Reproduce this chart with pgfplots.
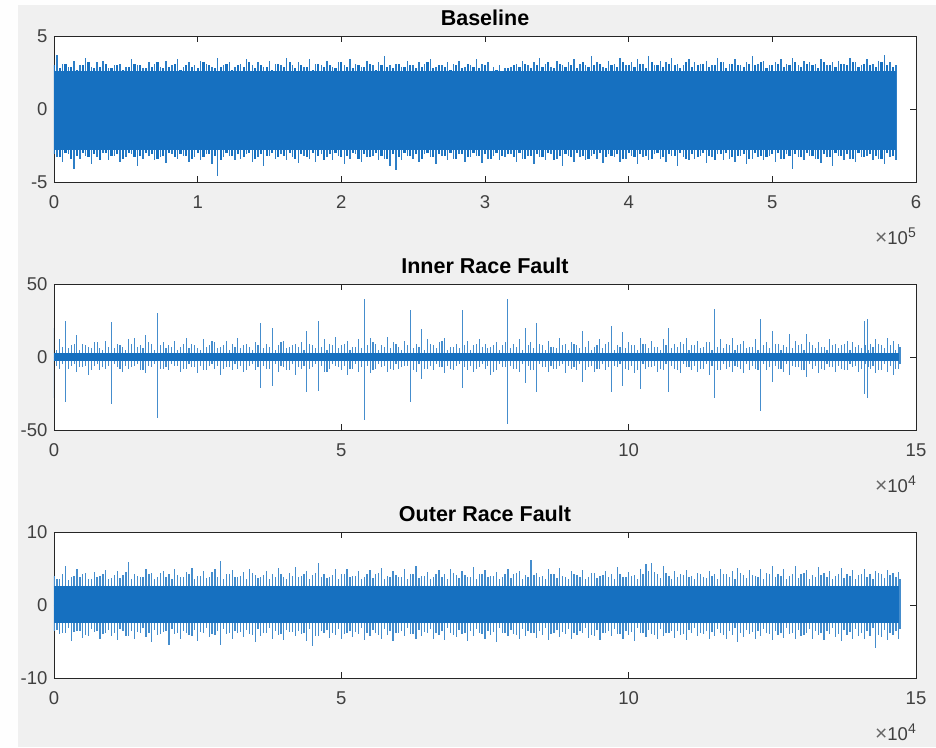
\documentclass[border=0pt]{standalone}
\usepackage{pgfplots}
\pgfplotsset{compat=1.18}
\usepackage{pgfplotstable}
\usepackage{fontspec}
\setmainfont{Liberation Sans}

\definecolor{mblue}{RGB}{22,112,192}
\definecolor{figbg}{RGB}{240,240,240}
\definecolor{axgray}{RGB}{38,38,38}

% baseline: peak envelope (x in units of 10^5)
% x/hi/lo = larger peaks, x2/h2/l2 = the denser fringe in between
\pgfplotstableread[row sep=\\]{
x hi lo x2 h2 l2\\
0.02 3.7 -3.3 0.00 3.0 -3.1\\ 0.06 3.1 -3.6 0.04 2.8 -3.3\\ 0.10 2.9 -3.1 0.08 3.1 -3.0\\
0.14 3.3 -4.1 0.12 2.9 -3.4\\ 0.18 3.0 -3.4 0.16 2.7 -3.2\\ 0.22 3.5 -3.2 0.20 3.0 -3.0\\
0.26 2.9 -3.8 0.24 3.2 -3.3\\ 0.30 3.2 -3.3 0.28 2.8 -3.1\\ 0.34 3.3 -3.0 0.32 2.9 -3.5\\
0.38 2.8 -3.5 0.36 3.1 -3.0\\ 0.42 3.0 -3.2 0.40 2.8 -3.2\\ 0.46 3.1 -3.6 0.44 3.0 -3.1\\
0.50 2.9 -3.3 0.48 2.7 -3.4\\ 0.54 3.4 -3.1 0.52 2.9 -3.0\\ 0.58 3.0 -3.9 0.56 3.1 -3.3\\
0.62 2.8 -3.4 0.60 3.0 -3.2\\ 0.66 3.2 -3.2 0.64 2.8 -3.0\\ 0.70 3.1 -3.5 0.68 2.9 -3.1\\
0.74 2.9 -3.3 0.72 3.2 -3.4\\ 0.78 3.3 -3.7 0.76 2.8 -3.2\\ 0.82 3.0 -3.1 0.80 2.9 -3.0\\
0.86 3.4 -3.4 0.84 3.1 -3.3\\ 0.90 2.9 -3.2 0.88 2.7 -3.1\\ 0.94 3.2 -3.6 0.92 3.0 -3.2\\
0.98 3.0 -3.3 0.96 2.9 -3.4\\ 1.02 3.3 -3.5 1.00 2.8 -3.0\\ 1.06 3.1 -3.1 1.04 3.2 -3.3\\
1.10 2.9 -3.8 1.08 3.0 -3.1\\ 1.14 3.5 -4.6 1.12 2.8 -3.2\\ 1.18 3.0 -3.3 1.16 2.9 -3.5\\
1.22 3.2 -3.2 1.20 3.1 -3.0\\ 1.26 2.9 -3.5 1.24 2.7 -3.2\\ 1.30 3.1 -3.4 1.28 3.0 -3.1\\
1.34 3.4 -3.1 1.32 2.9 -3.3\\ 1.38 3.0 -3.6 1.36 3.2 -3.0\\ 1.42 3.2 -3.3 1.40 2.8 -3.4\\
1.46 2.9 -3.9 1.44 3.0 -3.1\\ 1.50 3.3 -3.2 1.48 2.9 -3.2\\ 1.54 3.1 -3.4 1.52 2.7 -3.0\\
1.58 3.0 -3.1 1.56 3.1 -3.3\\ 1.62 3.5 -3.5 1.60 2.9 -3.2\\ 1.66 3.0 -3.3 1.64 3.2 -3.0\\
1.70 3.2 -3.7 1.68 2.8 -3.4\\ 1.74 2.9 -3.2 1.72 3.0 -3.1\\ 1.78 3.4 -3.4 1.76 2.9 -3.3\\
1.82 3.1 -3.6 1.80 2.7 -3.0\\ 1.86 3.0 -3.1 1.84 3.1 -3.2\\ 1.90 3.3 -3.3 1.88 2.9 -3.5\\
1.94 2.9 -3.5 1.92 3.0 -3.1\\ 1.98 3.2 -3.2 1.96 2.8 -3.0\\ 2.02 3.0 -3.8 2.00 3.2 -3.3\\
2.06 3.4 -3.4 2.04 2.9 -3.2\\ 2.10 3.1 -3.1 2.08 2.8 -3.0\\ 2.14 2.9 -3.6 2.12 3.0 -3.4\\
2.18 3.3 -3.3 2.16 2.9 -3.1\\ 2.22 3.0 -3.2 2.20 3.1 -3.3\\ 2.26 3.2 -3.5 2.24 2.7 -3.0\\
2.30 3.6 -3.4 2.28 3.0 -3.2\\ 2.34 3.0 -3.9 2.32 2.9 -3.4\\ 2.38 3.1 -4.2 2.36 2.8 -3.1\\
2.42 2.9 -3.5 2.40 3.1 -3.3\\ 2.46 3.3 -3.2 2.44 2.9 -3.0\\ 2.50 3.0 -3.4 2.48 3.0 -3.2\\
2.54 3.2 -3.6 2.52 2.8 -3.1\\ 2.58 3.1 -3.1 2.56 2.9 -3.4\\ 2.62 3.4 -3.3 2.60 3.2 -3.0\\
2.66 2.9 -3.8 2.64 2.8 -3.3\\ 2.70 3.0 -3.2 2.68 3.0 -3.1\\ 2.74 3.2 -3.5 2.72 2.9 -3.2\\
2.78 3.1 -3.4 2.76 2.7 -3.0\\ 2.82 3.3 -3.1 2.80 3.0 -3.4\\ 2.86 2.9 -3.6 2.84 2.8 -3.1\\
2.90 3.0 -3.3 2.88 3.1 -3.3\\ 2.94 3.4 -3.2 2.92 2.9 -3.0\\ 2.98 3.1 -3.7 2.96 2.8 -3.2\\
3.02 3.2 -3.4 3.00 3.0 -3.1\\ 3.06 2.9 -3.2 3.04 2.6 -3.4\\ 3.10 3.0 -3.5 3.08 2.7 -3.0\\
3.14 2.8 -3.3 3.12 2.6 -3.2\\ 3.18 2.9 -3.1 3.16 2.8 -3.1\\ 3.22 3.1 -3.6 3.20 3.0 -3.3\\
3.26 3.3 -3.4 3.24 2.9 -3.0\\ 3.30 3.0 -3.2 3.28 3.1 -3.4\\ 3.34 3.2 -3.8 3.32 2.8 -3.2\\
3.38 3.5 -3.3 3.36 3.0 -3.1\\ 3.42 3.1 -3.5 3.40 2.9 -3.3\\ 3.46 2.9 -3.1 3.44 3.2 -3.0\\
3.50 3.3 -3.4 3.48 2.8 -3.5\\ 3.54 3.0 -3.9 3.52 3.1 -3.2\\ 3.58 3.2 -3.2 3.56 2.9 -3.1\\
3.62 3.4 -3.6 3.60 3.0 -3.3\\ 3.66 3.1 -3.3 3.64 2.8 -3.0\\ 3.70 3.0 -3.5 3.68 3.2 -3.2\\
3.74 3.6 -3.2 3.72 2.9 -3.4\\ 3.78 3.2 -3.4 3.76 3.0 -3.1\\ 3.82 2.9 -3.7 3.80 3.1 -3.0\\
3.86 3.3 -3.1 3.84 2.8 -3.3\\ 3.90 3.1 -3.3 3.88 3.0 -3.2\\ 3.94 3.5 -3.6 3.92 2.9 -3.1\\
3.98 3.0 -3.4 3.96 3.2 -3.4\\ 4.02 3.2 -3.2 4.00 3.0 -3.0\\ 4.06 3.4 -3.8 4.04 2.9 -3.3\\
4.10 3.1 -3.3 4.08 3.1 -3.1\\ 4.14 3.6 -3.5 4.12 2.8 -3.2\\ 4.18 3.0 -3.1 4.16 3.2 -3.4\\
4.22 3.3 -3.4 4.20 3.0 -3.0\\ 4.26 3.2 -3.6 4.24 2.9 -3.3\\ 4.30 3.5 -3.2 4.28 3.1 -3.1\\
4.34 3.1 -3.9 4.32 3.0 -3.2\\ 4.38 3.0 -3.3 4.36 2.8 -3.0\\ 4.42 3.4 -3.5 4.40 3.2 -3.4\\
4.46 3.2 -3.4 4.44 2.9 -3.1\\ 4.50 3.1 -3.2 4.48 3.0 -3.3\\ 4.54 3.3 -3.7 4.52 3.1 -3.0\\
4.58 3.0 -3.3 4.56 2.9 -3.2\\ 4.62 3.5 -3.1 4.60 3.0 -3.5\\ 4.66 3.2 -3.5 4.64 3.2 -3.1\\
4.70 3.1 -3.4 4.68 2.8 -3.0\\ 4.74 3.4 -3.6 4.72 3.1 -3.3\\ 4.78 3.0 -3.2 4.76 3.0 -3.2\\
4.82 3.2 -3.8 4.80 2.9 -3.1\\ 4.86 3.6 -3.4 4.84 3.1 -3.4\\ 4.90 3.1 -3.3 4.88 3.0 -3.0\\
4.94 3.3 -3.5 4.92 3.2 -3.2\\ 4.98 3.0 -3.2 4.96 2.8 -3.3\\ 5.02 3.2 -3.6 5.00 3.0 -3.1\\
5.06 3.4 -3.4 5.04 3.1 -3.0\\ 5.10 3.1 -3.1 5.08 2.9 -3.4\\ 5.14 3.5 -4.1 5.12 3.0 -3.2\\
5.18 3.0 -3.3 5.16 3.2 -3.1\\ 5.22 3.3 -3.5 5.20 2.9 -3.3\\ 5.26 3.2 -3.2 5.24 3.1 -3.0\\
5.30 3.1 -3.4 5.28 3.0 -3.2\\ 5.34 3.4 -3.7 5.32 2.8 -3.4\\ 5.38 3.0 -3.3 5.36 3.2 -3.1\\
5.42 3.2 -3.9 5.40 3.0 -3.3\\ 5.46 3.3 -3.2 5.44 2.9 -3.0\\ 5.50 3.1 -3.5 5.48 3.1 -3.2\\
5.54 3.5 -3.4 5.52 3.0 -3.1\\ 5.58 3.2 -3.6 5.56 3.2 -3.4\\ 5.62 3.0 -3.3 5.60 2.9 -3.0\\
5.66 3.4 -3.2 5.64 3.1 -3.3\\ 5.70 3.1 -3.5 5.68 3.0 -3.1\\ 5.74 3.3 -3.4 5.72 2.9 -3.2\\
5.78 3.7 -3.8 5.76 3.2 -3.4\\ 5.82 3.2 -3.3 5.80 3.0 -3.0\\ 5.86 3.0 -3.5 5.84 2.9 -3.2\\
}\base

% inner race fault: impulse peaks (x in units of 10^4)
\pgfplotstableread[row sep=\\]{
x hi lo x2 h2 l2\\
0.0 20 -28 0.05 5 -6\\ 0.1 12 -8 0.15 7 -5\\ 0.2 25 -31 0.25 6 -8\\ 0.3 8 -6 0.35 9 -5\\
0.4 15 -10 0.45 5 -7\\ 0.5 9 -7 0.55 8 -6\\ 0.6 7 -12 0.65 6 -9\\ 0.7 10 -6 0.75 10 -5\\
0.8 6 -9 0.85 5 -7\\ 0.9 11 -8 0.95 7 -6\\ 1.0 24 -32 1.05 6 -5\\ 1.1 9 -7 1.15 8 -8\\
1.2 7 -10 1.25 5 -6\\ 1.3 12 -8 1.35 9 -7\\ 1.4 13 -6 1.45 7 -5\\ 1.5 8 -9 1.55 6 -9\\
1.6 15 -11 1.65 10 -6\\ 1.7 9 -7 1.75 5 -5\\ 1.8 30 -42 1.85 8 -8\\ 1.9 10 -8 1.95 6 -7\\
2.0 8 -9 2.05 7 -5\\ 2.1 11 -6 2.15 5 -6\\ 2.2 7 -10 2.25 9 -8\\ 2.3 13 -8 2.35 6 -5\\
2.4 9 -7 2.45 8 -7\\ 2.5 6 -11 2.55 5 -6\\ 2.6 12 -9 2.65 7 -9\\ 2.7 8 -6 2.75 11 -5\\
2.8 10 -8 2.85 6 -6\\ 2.9 7 -12 2.95 8 -8\\ 3.0 11 -7 3.05 5 -7\\ 3.1 9 -9 3.15 7 -5\\
3.2 13 -8 3.25 6 -6\\ 3.3 8 -10 3.35 9 -9\\ 3.4 7 -6 3.45 5 -5\\ 3.5 10 -9 3.55 8 -7\\
3.6 23 -21 3.65 6 -6\\ 3.7 9 -8 3.75 7 -8\\ 3.8 20 -20 3.85 5 -5\\ 3.9 8 -10 3.95 10 -6\\
4.0 11 -7 4.05 6 -9\\ 4.1 7 -9 4.15 8 -5\\ 4.2 9 -12 4.25 7 -7\\ 4.3 10 -8 4.35 5 -6\\
4.4 18 -24 4.45 9 -8\\ 4.5 8 -7 4.55 6 -5\\ 4.6 25 -23 4.65 7 -6\\ 4.7 12 -10 4.75 5 -10\\
4.8 9 -8 4.85 8 -5\\ 4.9 14 -6 4.95 6 -7\\ 5.0 8 -9 5.05 9 -6\\ 5.1 11 -12 5.15 5 -8\\
5.2 7 -8 5.25 7 -5\\ 5.3 12 -10 5.35 6 -7\\ 5.4 40 -43 5.45 8 -6\\ 5.5 13 -11 5.55 10 -9\\
5.6 9 -8 5.65 5 -5\\ 5.7 8 -7 5.75 7 -6\\ 5.8 14 -10 5.85 6 -8\\ 5.9 10 -9 5.95 9 -5\\
6.0 7 -8 6.05 5 -7\\ 6.1 11 -6 6.15 8 -6\\ 6.2 32 -31 6.25 6 -9\\ 6.3 9 -10 6.35 7 -5\\
6.4 19 -15 6.45 5 -8\\ 6.5 12 -8 6.55 9 -6\\ 6.6 8 -9 6.65 6 -5\\ 6.7 10 -7 6.75 11 -7\\
6.8 13 -11 6.85 5 -6\\ 6.9 7 -8 6.95 7 -9\\ 7.0 9 -6 7.05 6 -5\\ 7.1 32 -21 7.15 8 -7\\
7.2 11 -9 7.25 5 -6\\ 7.3 8 -10 7.35 9 -8\\ 7.4 12 -7 7.45 7 -5\\ 7.5 9 -8 7.55 6 -6\\
7.6 7 -12 7.65 8 -10\\ 7.7 10 -9 7.75 5 -5\\ 7.8 8 -7 7.85 10 -7\\ 7.9 40 -46 7.95 6 -6\\
8.0 9 -8 8.05 7 -8\\ 8.1 12 -10 8.15 5 -5\\ 8.2 20 -18 8.25 8 -6\\ 8.3 10 -9 8.35 6 -9\\
8.4 23 -24 8.45 9 -5\\ 8.5 8 -7 8.55 5 -7\\ 8.6 11 -10 8.65 7 -6\\ 8.7 7 -8 8.75 6 -8\\
8.8 13 -6 8.85 8 -5\\ 8.9 9 -11 8.95 5 -6\\ 9.0 10 -8 9.05 9 -7\\ 9.1 8 -9 9.15 6 -5\\
9.2 18 -17 9.25 7 -9\\ 9.3 11 -7 9.35 5 -6\\ 9.4 7 -10 9.45 8 -8\\ 9.5 12 -8 9.55 6 -5\\
9.6 9 -9 9.65 10 -7\\ 9.7 21 -24 9.75 5 -6\\ 9.8 8 -7 9.85 7 -5\\ 9.9 17 -20 9.95 6 -8\\
10.0 10 -9 10.05 8 -6\\ 10.1 8 -11 10.15 5 -9\\ 10.2 13 -22 10.25 9 -5\\ 10.3 9 -8 10.35 6 -7\\
10.4 11 -7 10.45 7 -6\\ 10.5 7 -10 10.55 5 -8\\ 10.6 12 -9 10.65 8 -5\\ 10.7 20 -24 10.75 6 -6\\
10.8 9 -8 10.85 7 -9\\ 10.9 10 -11 10.95 9 -5\\ 11.0 13 -7 11.05 5 -7\\ 11.1 8 -9 11.15 8 -6\\
11.2 11 -10 11.25 6 -8\\ 11.3 7 -8 11.35 10 -5\\ 11.4 10 -12 11.45 5 -6\\ 11.5 33 -28 11.55 7 -9\\
11.6 12 -9 11.65 6 -5\\ 11.7 9 -8 11.75 8 -7\\ 11.8 13 -10 11.85 5 -6\\ 11.9 8 -7 11.95 9 -8\\
12.0 11 -11 12.05 6 -5\\ 12.1 7 -9 12.15 7 -6\\ 12.2 12 -8 12.25 5 -9\\ 12.3 26 -37 12.35 8 -5\\
12.4 10 -9 12.45 6 -7\\ 12.5 18 -17 12.55 9 -6\\ 12.6 9 -8 12.65 5 -8\\ 12.7 8 -10 12.75 7 -5\\
12.8 16 -12 12.85 6 -6\\ 12.9 11 -7 12.95 8 -7\\ 13.0 9 -9 13.05 5 -9\\ 13.1 16 -14 13.15 10 -5\\
13.2 8 -8 13.25 6 -6\\ 13.3 10 -11 13.35 7 -8\\ 13.4 7 -9 13.45 5 -5\\ 13.5 12 -7 13.55 8 -7\\
13.6 9 -10 13.65 6 -6\\ 13.7 8 -8 13.75 9 -9\\ 13.8 11 -9 13.85 5 -5\\ 13.9 10 -7 13.95 7 -6\\
14.0 8 -10 14.05 6 -8\\ 14.1 25 -25 14.12 8 -5\\ 14.15 26 -28 14.18 5 -7\\ 14.2 9 -8 14.25 7 -6\\
14.3 12 -11 14.35 9 -9\\ 14.4 8 -9 14.45 6 -5\\ 14.5 13 -10 14.55 8 -6\\ 14.6 11 -12 14.65 5 -8\\
14.7 9 -8 14.72 7 -5\\
}\inner

% outer race fault: peaks (x in units of 10^4)
\pgfplotstableread[row sep=\\]{
x hi lo x2 h2 l2\\
0.0 4.0 -3.5 0.05 3.6 -3.4\\ 0.1 3.5 -4.0 0.15 4.2 -3.9\\ 0.2 5.3 -3.8 0.25 3.4 -3.2\\
0.3 3.8 -4.9 0.35 4.0 -3.7\\ 0.4 5.0 -3.6 0.45 3.8 -3.5\\ 0.5 4.2 -4.5 0.55 4.4 -4.1\\
0.6 3.6 -4.2 0.65 3.5 -3.3\\ 0.7 4.5 -3.7 0.75 3.9 -3.6\\ 0.8 4.0 -4.6 0.85 4.3 -4.0\\
0.9 4.8 -3.9 0.95 3.6 -3.4\\ 1.0 3.7 -4.3 1.05 4.1 -3.8\\ 1.1 4.6 -4.8 1.15 3.7 -3.3\\
1.2 4.1 -3.6 1.25 4.5 -4.2\\ 1.3 5.9 -4.2 1.35 3.5 -3.5\\ 1.4 4.3 -4.7 1.45 4.0 -3.7\\
1.5 3.9 -3.8 1.55 3.8 -3.2\\ 1.6 5.0 -4.4 1.65 4.2 -3.9\\ 1.7 4.4 -5.0 1.75 3.6 -3.4\\
1.8 3.8 -4.1 1.85 4.4 -4.0\\ 1.9 4.7 -3.7 1.95 3.9 -3.6\\ 2.0 4.2 -5.5 2.05 3.5 -3.3\\
2.1 5.0 -4.0 2.15 4.1 -3.8\\ 2.2 3.9 -4.6 2.25 3.8 -3.5\\ 2.3 4.5 -3.9 2.35 4.3 -4.1\\
2.4 5.1 -4.3 2.45 3.6 -3.4\\ 2.5 4.0 -4.9 2.55 4.0 -3.7\\ 2.6 4.6 -3.8 2.65 3.7 -3.2\\
2.7 3.8 -4.4 2.75 4.5 -4.0\\ 2.8 4.9 -4.1 2.85 3.9 -3.6\\ 2.9 6.0 -5.5 2.95 3.5 -3.3\\
3.0 4.3 -4.0 3.05 4.2 -3.9\\ 3.1 4.8 -4.7 3.15 3.8 -3.5\\ 3.2 3.9 -3.8 3.25 4.0 -3.7\\
3.3 4.5 -4.4 3.35 3.6 -3.4\\ 3.4 5.0 -4.0 3.45 4.4 -4.1\\ 3.5 4.1 -5.0 3.55 3.7 -3.3\\
3.6 3.8 -4.2 3.65 4.1 -3.8\\ 3.7 4.6 -3.9 3.75 3.5 -3.2\\ 3.8 4.2 -4.6 3.85 3.9 -3.6\\
3.9 5.1 -4.1 3.95 4.3 -4.0\\ 4.0 3.9 -4.8 4.05 3.6 -3.4\\ 4.1 4.4 -3.7 4.15 4.0 -3.7\\
4.2 5.2 -4.3 4.25 3.8 -3.5\\ 4.3 4.0 -4.0 4.35 4.2 -3.9\\ 4.4 4.7 -4.9 4.45 3.5 -3.3\\
4.5 4.1 -5.6 4.55 4.4 -4.2\\ 4.6 5.7 -4.2 4.65 3.9 -3.6\\ 4.7 4.3 -3.9 4.75 3.7 -3.4\\
4.8 3.8 -4.5 4.85 4.1 -3.8\\ 4.9 4.9 -4.1 4.95 3.6 -3.3\\ 5.0 4.2 -4.7 5.05 4.3 -4.0\\
5.1 5.0 -3.8 5.15 3.8 -3.5\\ 5.2 4.0 -4.4 5.25 4.0 -3.7\\ 5.3 4.6 -4.0 5.35 3.5 -3.2\\
5.4 3.9 -4.8 5.45 4.2 -3.9\\ 5.5 4.8 -4.2 5.55 3.7 -3.4\\ 5.6 4.3 -3.9 5.65 4.4 -4.1\\
5.7 5.1 -4.6 5.75 3.6 -3.3\\ 5.8 4.0 -4.1 5.85 3.9 -3.6\\ 5.9 4.6 -4.9 5.95 4.1 -3.8\\
6.0 3.8 -3.8 6.05 3.8 -3.5\\ 6.1 4.9 -4.3 6.15 3.5 -3.2\\ 6.2 4.2 -4.0 6.25 4.3 -4.0\\
6.3 5.3 -4.7 6.35 3.7 -3.4\\ 6.4 4.0 -4.2 6.45 4.0 -3.7\\ 6.5 4.5 -3.9 6.55 3.6 -3.3\\
6.6 3.9 -4.6 6.65 4.2 -3.9\\ 6.7 4.8 -4.1 6.75 3.9 -3.6\\ 6.8 4.3 -4.8 6.85 3.5 -3.2\\
6.9 5.0 -3.8 6.95 4.4 -4.1\\ 7.0 4.1 -4.4 7.05 3.7 -3.4\\ 7.1 4.6 -4.0 7.15 4.1 -3.8\\
7.2 3.9 -4.9 7.25 3.8 -3.5\\ 7.3 5.2 -4.2 7.35 3.6 -3.3\\ 7.4 4.2 -3.9 7.45 4.3 -4.0\\
7.5 4.8 -4.6 7.55 3.9 -3.6\\ 7.6 4.0 -4.1 7.65 4.0 -3.7\\ 7.7 4.5 -5.0 7.75 3.5 -3.2\\
7.8 3.8 -3.8 7.85 4.2 -3.9\\ 7.9 5.0 -4.3 7.95 3.7 -3.4\\ 8.0 4.3 -4.0 8.05 4.4 -4.1\\
8.1 4.7 -4.7 8.15 3.6 -3.3\\ 8.2 4.1 -4.2 8.25 3.9 -3.6\\ 8.3 6.2 -3.9 8.35 4.1 -3.8\\
8.4 4.4 -4.5 8.45 3.8 -3.5\\ 8.5 4.0 -4.1 8.55 3.5 -3.2\\ 8.6 4.9 -4.8 8.65 4.3 -4.0\\
8.7 4.2 -3.8 8.75 3.7 -3.4\\ 8.8 5.1 -4.4 8.85 4.0 -3.7\\ 8.9 3.9 -4.0 8.95 3.6 -3.3\\
9.0 4.6 -4.6 9.05 4.2 -3.9\\ 9.1 4.1 -4.1 9.15 3.9 -3.6\\ 9.2 4.8 -3.9 9.25 3.5 -3.2\\
9.3 3.8 -4.5 9.35 4.4 -4.1\\ 9.4 4.4 -4.2 9.45 3.7 -3.4\\ 9.5 4.0 -4.8 9.55 4.1 -3.8\\
9.6 4.7 -3.8 9.65 3.8 -3.5\\ 9.7 4.2 -4.3 9.75 3.6 -3.3\\ 9.8 5.2 -4.0 9.85 4.3 -4.0\\
9.9 3.9 -4.6 9.95 3.9 -3.6\\ 10.0 4.5 -4.1 10.05 4.0 -3.7\\ 10.1 4.1 -4.9 10.15 3.5 -3.2\\
10.2 4.9 -3.9 10.25 4.2 -3.9\\ 10.3 5.6 -4.4 10.35 4.6 -3.4\\ 10.4 5.7 -4.0 10.45 4.5 -4.1\\
10.5 4.3 -4.7 10.55 3.7 -3.3\\ 10.6 5.4 -4.2 10.65 4.4 -3.8\\ 10.7 4.0 -3.8 10.75 3.6 -3.5\\
10.8 4.6 -4.5 10.85 3.9 -3.6\\ 10.9 4.2 -4.1 10.95 4.1 -4.0\\ 11.0 4.8 -4.8 11.05 3.8 -3.4\\
11.1 4.0 -3.9 11.15 3.5 -3.2\\ 11.2 4.4 -4.3 11.25 4.3 -3.9\\ 11.3 3.9 -4.0 11.35 3.7 -3.5\\
11.4 4.6 -4.6 11.45 4.0 -3.7\\ 11.5 4.2 -4.2 11.55 3.6 -3.3\\ 11.6 5.0 -3.9 11.65 4.2 -4.1\\
11.7 4.3 -4.7 11.75 3.9 -3.6\\ 11.8 4.7 -4.1 11.85 3.5 -3.2\\ 11.9 5.1 -5.1 11.95 4.4 -3.8\\
12.0 4.1 -4.4 12.05 3.7 -3.4\\ 12.1 4.8 -4.0 12.15 4.1 -3.7\\ 12.2 4.0 -4.6 12.25 3.8 -3.5\\
12.3 5.0 -4.2 12.35 3.6 -3.3\\ 12.4 4.4 -3.9 12.45 4.3 -4.0\\ 12.5 5.3 -4.8 12.55 3.9 -3.6\\
12.6 4.2 -4.1 12.65 4.0 -3.8\\ 12.7 4.9 -4.5 12.75 3.5 -3.2\\ 12.8 4.0 -4.0 12.85 4.2 -3.9\\
12.9 5.3 -4.7 12.95 3.7 -3.4\\ 13.0 4.3 -4.2 13.05 4.4 -4.1\\ 13.1 4.8 -3.9 13.15 3.6 -3.3\\
13.2 4.1 -4.6 13.25 3.9 -3.6\\ 13.3 5.2 -4.1 13.35 4.1 -3.8\\ 13.4 4.4 -4.8 13.45 3.8 -3.5\\
13.5 4.6 -4.0 13.55 3.5 -3.2\\ 13.6 4.0 -4.4 13.65 4.3 -4.0\\ 13.7 5.1 -4.9 13.75 3.7 -3.4\\
13.8 4.3 -4.1 13.85 4.0 -3.7\\ 13.9 4.8 -4.6 13.95 3.6 -3.3\\ 14.0 4.1 -4.2 14.05 4.2 -3.9\\
14.1 4.9 -4.7 14.15 3.9 -3.6\\ 14.2 4.3 -4.3 14.25 3.5 -3.2\\ 14.3 4.6 -5.9 14.35 4.4 -4.1\\
14.4 4.2 -4.4 14.45 3.7 -3.4\\ 14.5 4.8 -4.8 14.55 4.1 -3.8\\ 14.6 4.4 -4.1 14.65 3.8 -3.5\\
14.7 4.5 -4.6 14.72 3.6 -3.3\\
}\outer

\pgfplotsset{
  sig/.style={
    scale only axis, width=862pt, height=146pt,
    anchor=north west,
    axis line style={axgray, line width=0.8pt},
    every tick/.style={axgray, line width=0.8pt},
    major tick length=6pt,
    tick align=inside,
    ticklabel style={font=\fontsize{18.5}{20}\selectfont, text=black!75},
    xticklabel style={yshift=-10pt},
    yticklabel style={xshift=-3pt},
    title style={at={(0.5,1)}, anchor=base, yshift=5pt,
                 font=\bfseries\fontsize{21.5}{24}\selectfont},
    axis background/.style={fill=white},
  },
  comb/.style={ycomb, color=mblue!80!white, line width=0.8pt, mark=none},
  band/.style={fill=mblue, draw=none},
}

\newcommand{\xscale}[1]{{\color{black!60}\fontsize{21}{21}\selectfont ×}10\raisebox{7pt}{\fontsize{14}{14}\selectfont #1}}

\begin{document}
\begin{tikzpicture}
\fill[figbg] (0,0) rectangle (936pt,-747pt);
\fill[white!96!figbg] (0,0) rectangle (18pt,-747pt);
\fill[white!96!figbg] (0,0) rectangle (936pt,-5pt);

\begin{axis}[sig, name=ax1, at={(54pt,-36pt)},
    xmin=0, xmax=6, ymin=-5, ymax=5,
    xtick={0,1,2,3,4,5,6}, xticklabels={0,1,2,3,4,5,6},
    ytick={-5,0,5}, yticklabels={-5,0,5},
    title={Baseline}]
  \addplot[comb, color=mblue!90!white, line width=1.4pt] table[x=x, y=hi] {\base};
  \addplot[comb, color=mblue!90!white, line width=1.4pt] table[x=x, y=lo] {\base};
  \addplot[comb, color=mblue, line width=2.2pt] table[x=x2, y=h2] {\base};
  \addplot[comb, color=mblue, line width=2.2pt] table[x=x2, y=l2] {\base};
  \addplot[band] coordinates {(0,-2.8) (0,2.6) (5.86,2.6) (5.86,-2.8)} -- cycle;
\end{axis}
\node[anchor=base east, inner sep=0pt, font=\fontsize{18.5}{20}\selectfont, text=black!75]
  at ([yshift=-62pt]ax1.south east) {\xscale{5}};

\begin{axis}[sig, name=ax2, at={(54pt,-284pt)},
    xmin=0, xmax=15, ymin=-50, ymax=50,
    xtick={0,5,10,15}, xticklabels={0,5,10,15},
    ytick={-50,0,50}, yticklabels={-50,0,50},
    title={Inner Race Fault}]
  \addplot[comb, line width=1pt] table[x=x, y=hi] {\inner};
  \addplot[comb, line width=1pt] table[x=x, y=lo] {\inner};
  \addplot[comb, line width=1.2pt] table[x=x2, y=h2] {\inner};
  \addplot[comb, line width=1.2pt] table[x=x2, y=l2] {\inner};
  \addplot[band] coordinates {(0,-3) (0,3) (14.7,3) (14.7,-3)} -- cycle;
\end{axis}
\node[anchor=base east, inner sep=0pt, font=\fontsize{18.5}{20}\selectfont, text=black!75]
  at ([yshift=-62pt]ax2.south east) {\xscale{4}};

\begin{axis}[sig, name=ax3, at={(54pt,-532pt)},
    xmin=0, xmax=15, ymin=-10, ymax=10,
    xtick={0,5,10,15}, xticklabels={0,5,10,15},
    ytick={-10,0,10}, yticklabels={-10,0,10},
    title={Outer Race Fault}]
  \addplot[comb, line width=1.2pt] table[x=x, y=hi] {\outer};
  \addplot[comb, line width=1.2pt] table[x=x, y=lo] {\outer};
  \addplot[comb, line width=1.4pt] table[x=x2, y=h2] {\outer};
  \addplot[comb, line width=1.4pt] table[x=x2, y=l2] {\outer};
  \addplot[band] coordinates {(0,-2.4) (0,2.6) (14.7,2.6) (14.7,-2.4)} -- cycle;
\end{axis}
\node[anchor=base east, inner sep=0pt, font=\fontsize{18.5}{20}\selectfont, text=black!75]
  at ([yshift=-62pt]ax3.south east) {\xscale{4}};
\end{tikzpicture}
\end{document}
